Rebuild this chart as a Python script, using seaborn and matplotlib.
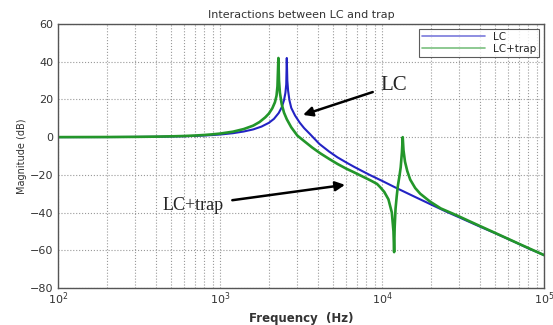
import numpy as np
import pandas as pd
import matplotlib
matplotlib.use("Agg")
import matplotlib.pyplot as plt
import seaborn as sns

# ---- data ----
lc_freq = [100, 200, 300, 400, 500, 600, 700, 800, 900, 1000, 1200, 1400, 1600, 1800,
           2000, 2150, 2300, 2400, 2480, 2530, 2560, 2580, 2600, 2630, 2680, 2750, 2900,
           3100, 3300, 3600, 4100, 4700, 5300, 6000, 6700, 7500, 8500, 10000, 12000,
           15000, 20000, 25000, 30000, 40000, 50000, 65000, 80000, 100000]
lc_db = [0.01, 0.05, 0.12, 0.2, 0.33, 0.48, 0.66, 0.88, 1.13, 1.4, 2.1, 3.0, 4.1, 5.6,
         7.6, 9.7, 12.8, 15.8, 19.6, 23.5, 28, 42, 30, 24.5, 19.5, 15.5, 11.5,
         7.7, 4.8, 1.5, -3.6, -7.6, -10.7, -13.4, -15.7, -17.9, -20.3, -23.2, -26.6,
         -30.6, -35.7, -39.6, -42.6, -47.4, -51.0, -55.4, -59.0, -62.6]

trap_freq = [100, 200, 300, 400, 500, 600, 700, 800, 900, 1000, 1200, 1400, 1600, 1750,
             1900, 2000, 2100, 2180, 2230, 2260, 2290, 2310, 2340, 2400, 2480, 2580,
             2750, 3000, 3270, 3700, 4140, 4700, 5300, 6000, 6650, 7500, 8500, 9300,
             9720, 10300, 10940, 11480, 11750, 11860, 11950, 12100, 12300, 12500,
             12800, 13020, 13250, 13400, 13550, 13840, 14300, 14900, 16000, 17180,
             19770, 23000, 28900, 35000, 51000, 70000, 100000]
trap_db = [0.02, 0.07, 0.15, 0.27, 0.43, 0.62, 0.86, 1.15, 1.5, 1.9, 2.9, 4.3, 6.1, 8.0,
           10.5, 12.5, 15.3, 18.5, 22, 27, 42, 30, 23.5, 17.5, 13, 9.5,
           5.2, 0.8, -1.8, -5.5, -8.5, -11.5, -14.2, -16.7, -18.5, -20.7, -23, -24.8,
           -26.5, -29, -33, -40, -50, -61, -48, -38, -31.5, -26,
           -20.5, -16, -8, 0, -7, -13, -18, -22.5, -27, -30,
           -34.2, -37.8, -41.5, -44.8, -51.2, -56.6, -62.6]

series_names = ["LC", "LC+trap"]
x_ticks = [1e2, 1e3, 1e4, 1e5]
x_tick_labels = [r"$10^2$", r"$10^3$", r"$10^4$", r"$10^5$"]
y_ticks = [-80, -60, -40, -20, 0, 20, 40, 60]

df = pd.concat([
    pd.DataFrame({"freq": lc_freq, "db": lc_db, "series": series_names[0]}),
    pd.DataFrame({"freq": trap_freq, "db": trap_db, "series": series_names[1]}),
], ignore_index=True)

sns.set_style("white")
plt.rcParams["font.family"] = ["DejaVu Sans"]

fig = plt.figure(figsize=(5.53, 3.25), dpi=100)
ax = fig.add_axes([0.105, 0.114, 0.879, 0.812])

palette = {"LC": "#2323c4", "LC+trap": "#23962a"}
sns.lineplot(data=df, x="freq", y="db", hue="series", palette=palette,
             ax=ax, sort=False, estimator=None, linewidth=1.6)
for line, lw in zip(ax.lines, [1.5, 1.9]):
    line.set_linewidth(lw)

ax.set_xscale("log")
ax.set_xlim(1e2, 1e5)
ax.set_ylim(-80, 60)
ax.set_xticks(x_ticks)
ax.set_xticklabels(x_tick_labels)
ax.set_yticks(y_ticks)
ax.tick_params(axis="both", which="both", direction="in", labelsize=8,
               colors="#444444", labelcolor="#333333")
ax.tick_params(axis="both", which="major", length=3)
ax.tick_params(axis="x", which="minor", length=2)
ax.tick_params(axis="x", which="major", pad=2)

ax.grid(True, which="major", linestyle=":", color="#999999", linewidth=0.8)
ax.grid(True, which="minor", axis="x", linestyle=":", color="#999999", linewidth=0.8)
for s in ax.spines.values():
    s.set_color("#555555")
    s.set_linewidth(1.0)

ax.set_title("Interactions between LC and trap", fontsize=8, color="#333333", pad=4)
ax.set_xlabel("Frequency  (Hz)", fontsize=8.5, color="#333333",
              fontweight="semibold")
ax.xaxis.set_label_coords(0.5, -0.09)
ax.set_ylabel("Magnitude (dB)", fontsize=7, color="#333333", labelpad=2)

leg = ax.legend(loc="upper right", fontsize=7.5, frameon=True, fancybox=False,
                handlelength=6.0, borderpad=0.3, labelspacing=0.2,
                borderaxespad=0.45, edgecolor="#333333")
leg.get_frame().set_linewidth(0.8)
for h in leg.get_lines():
    h.set_alpha(0.6)
    h.set_linewidth(1.2)

ax.annotate("LC", xy=(3250, 11.8), xytext=(9700, 27.5), fontsize=15,
            family="Liberation Serif", va="center", ha="left",
            arrowprops=dict(arrowstyle="-|>", color="black", lw=1.8,
                            mutation_scale=14, shrinkA=3, shrinkB=0))
ax.annotate("LC+trap", xy=(5900, -25.3), xytext=(1050, -36.3), fontsize=13,
            family="Liberation Serif", va="center", ha="right",
            arrowprops=dict(arrowstyle="-|>", color="black", lw=1.8,
                            mutation_scale=14, shrinkA=4, shrinkB=0))

fig.savefig("out.png", dpi=100)
